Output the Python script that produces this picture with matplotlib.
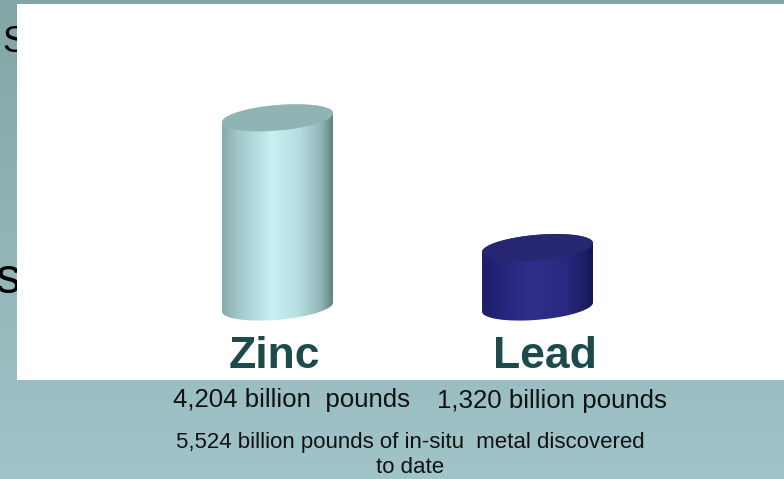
import numpy as np
import matplotlib
matplotlib.use('Agg')
import matplotlib.pyplot as plt
from matplotlib.patches import Rectangle, Polygon
from matplotlib.colors import LinearSegmentedColormap

# ---- data ----
categories = ['Zinc', 'Lead']
values = [4204, 1320]  # billion pounds of in-situ metal
value_labels = ['4,204 billion  pounds', '1,320 billion pounds']
total_label = '5,524 billion pounds of in-situ  metal discovered\nto date'

# ---- styles ----
side_colors = [
    [(0.0, '#84abad'), (0.15, '#a2c8ca'), (0.45, '#c8f0f3'), (0.7, '#b6dde0'),
     (0.9, '#8db3b5'), (1.0, '#5f8284')],
    [(0.0, '#1e1e6c'), (0.2, '#26267c'), (0.45, '#2f2f8c'), (0.75, '#29297f'),
     (0.92, '#1e1e66'), (1.0, '#141450')],
]
top_colors = ['#90b4b4', '#262673']
label_color = '#1d4a4b'
font = 'Liberation Sans'

W, H = 784, 479
fig = plt.figure(figsize=(W / 100, H / 100), dpi=100)


def fx(px):
    return px / W


def fy(py):
    return 1 - py / H


# background gradient and white panel
bg = fig.add_axes([0, 0, 1, 1])
bg.set_axis_off()
grad = np.linspace(0, 1, 256).reshape(-1, 1)
bg.imshow(grad, cmap=LinearSegmentedColormap.from_list('bg', ['#83a5a5', '#a0c4c8']),
          aspect='auto', extent=[0, 1, 0, 1], zorder=0)
bg.text(fx(2), fy(52), 'S', fontsize=26, family=font, color='black',
        va='baseline', ha='left', transform=bg.transAxes, zorder=1)
bg.text(fx(-4), fy(293), 's', fontsize=36, family=font, color='black',
        va='baseline', ha='left', transform=bg.transAxes, zorder=1)
bg.add_patch(Rectangle((fx(17), fy(380)), 1 - fx(17), fy(4) - fy(380),
                       transform=bg.transAxes, facecolor='white', edgecolor='none', zorder=2))
bg.set_xlim(0, 1)
bg.set_ylim(0, 1)

# main data axes
ax = fig.add_axes([0, 0, 1, 1])
ax.set_axis_off()
ax.patch.set_visible(False)
scale = 0.045        # px per billion pounds
base_px = 307        # baseline pixel row
spacing_px = 260
x0_px = 277.5
xlim = (-x0_px / spacing_px, (W - x0_px) / spacing_px)
ylim = (-(H - base_px) / scale, base_px / scale)

bar_w = 111 / spacing_px
b = 12.8 / scale     # ellipse semi-minor (data units)
s = 4.5 / scale      # tilt


def cylinder(cx, val, colors, topc, z=3):
    a = bar_w / 2
    t1 = np.linspace(0, np.pi, 120)
    t2 = np.linspace(np.pi, 2 * np.pi, 120)
    top = np.c_[cx + a * np.cos(t1), val + b * np.sin(t1) + s * np.cos(t1)]
    bot = np.c_[cx + a * np.cos(t2), b * np.sin(t2) + s * np.cos(t2)]
    poly = Polygon(np.vstack([top, bot]), closed=True, facecolor='none', edgecolor='none')
    ax.add_patch(poly)
    cmap = LinearSegmentedColormap.from_list('side', colors)
    img = ax.imshow(np.linspace(0, 1, 256).reshape(1, -1), cmap=cmap, aspect='auto',
                    extent=[cx - a, cx + a, -2 * b, val + 2 * b], zorder=z,
                    interpolation='bilinear')
    img.set_clip_path(poly)
    t3 = np.linspace(0, 2 * np.pi, 240)
    ell = Polygon(np.c_[cx + a * np.cos(t3), val + b * np.sin(t3) + s * np.cos(t3)],
                  closed=True, facecolor=topc, edgecolor='none', zorder=z + 1)
    ax.add_patch(ell)


for i, v in enumerate(values):
    cylinder(i, v, side_colors[i], top_colors[i])

label_dx_px = [-3.5, 7]
label_y = (base_px - 368.5) / scale
for i, c in enumerate(categories):
    ax.text(i + label_dx_px[i] / spacing_px, label_y, c, ha='center', va='baseline',
            fontsize=32, fontweight='bold', family=font, color=label_color, zorder=6)

ax.set_xlim(*xlim)
ax.set_ylim(*ylim)

# captions
fig.text(fx(173), fy(407), value_labels[0], fontsize=18.6, family=font, color='#111111',
         ha='left', va='baseline')
fig.text(fx(437), fy(408), value_labels[1], fontsize=18.6, family=font, color='#111111',
         ha='left', va='baseline')
total_lines = total_label.split('\n')
line_y = [448, 473]
for ln, yy in zip(total_lines, line_y):
    fig.text(fx(410), fy(yy), ln, fontsize=16, family=font, color='#111111',
             ha='center', va='baseline')

fig.savefig('out.png', dpi=100)
